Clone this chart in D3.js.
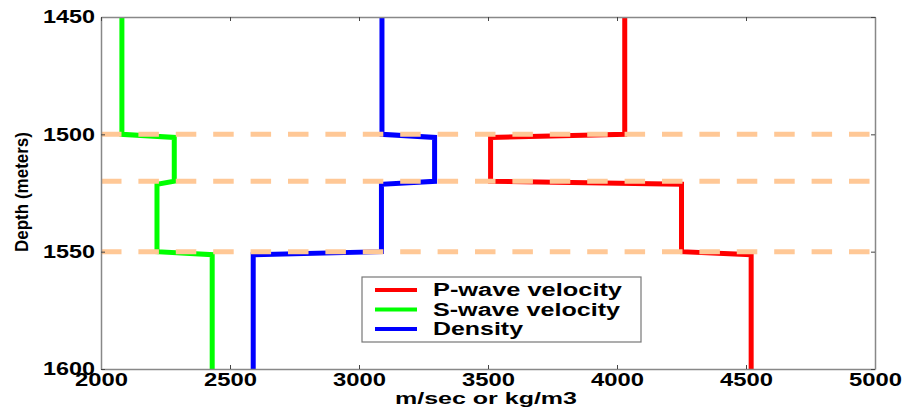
<!DOCTYPE html>
<html>
<head>
<meta charset="utf-8">
<script src="https://cdn.jsdelivr.net/npm/d3@7"></script>
<style>
  body { margin: 0; background: #fff; }
  svg { display: block; font-family: "Liberation Sans", Arial, sans-serif; font-weight: bold; }
</style>
</head>
<body>
<div id="chart"></div>
<script>
const width = 906;
const height = 408;

// depth samples (m) shared by the three logs
const depths = [1450, 1500, 1501.3, 1520, 1521.3, 1550, 1551.3, 1600];
const pWave = [4030, 4030, 3510, 3510, 4250, 4250, 4520, 4520];
const sWave = [2081, 2081, 2284, 2284, 2217, 2217, 2431, 2431];
const density = [3089, 3089, 3293, 3293, 3087, 3087, 2590, 2590];

const boundaries = [1500, 1520, 1550];
const xTicks = [2000, 2500, 3000, 3500, 4000, 4500, 5000];
const yTicks = [1450, 1500, 1550, 1600];

const seriesNames = ["P-wave velocity", "S-wave velocity", "Density"];
const seriesColors = ["#ff0000", "#00ff00", "#0000ff"];
const seriesValues = [pWave, sWave, density];

const x = d3.scaleLinear().domain([2000, 5000]).range([101, 875]);
const y = d3.scaleLinear().domain([1450, 1600]).range([17, 369]);

const svg = d3.select("#chart").append("svg")
    .attr("width", width)
    .attr("height", height);

// courbes
const line = d3.line()
    .x(d => x(d[0]))
    .y(d => y(d[1]));

seriesValues.forEach((vals, i) => {
    svg.append("path")
        .datum(vals.map((v, j) => [v, depths[j]]))
        .attr("d", line)
        .attr("fill", "none")
        .attr("stroke", seriesColors[i])
        .attr("stroke-width", 5)
        .attr("stroke-linejoin", "miter");
});

// limites de couches en tirets
svg.append("g")
    .selectAll("line")
    .data(boundaries)
    .enter()
    .append("line")
    .attr("x1", x(2000))
    .attr("x2", x(5000))
    .attr("y1", d => y(d))
    .attr("y2", d => y(d))
    .attr("stroke", "#ffc896")
    .attr("stroke-width", 5)
    .attr("stroke-dasharray", "20.5,16.9");

// axes
function styleAxis(g) {
    g.select(".domain").attr("stroke", "#888").attr("stroke-width", 1.5);
    g.selectAll(".tick line").attr("stroke", "#444");
    g.selectAll(".tick text")
        .attr("fill", "#000")
        .style("font-size", "18px")
        .style("font-weight", "bold")
        .attr("font-family", null);
}

svg.append("g")
    .attr("transform", `translate(0,${y(1600)})`)
    .call(d3.axisBottom(x).tickValues(xTicks).tickSize(-4).tickSizeOuter(0).tickPadding(4).tickFormat(d3.format("d")))
    .call(styleAxis)
    .selectAll(".tick text")
    .attr("textLength", 53)
    .attr("lengthAdjust", "spacingAndGlyphs");

svg.append("g")
    .attr("transform", `translate(${x(2000)},0)`)
    .call(d3.axisLeft(y).tickValues(yTicks).tickSize(-4).tickSizeOuter(0).tickPadding(6).tickFormat(d3.format("d")))
    .call(styleAxis)
    .selectAll(".tick text")
    .attr("textLength", 52)
    .attr("lengthAdjust", "spacingAndGlyphs");

svg.append("g")
    .attr("transform", `translate(0,${y(1450)})`)
    .call(d3.axisTop(x).tickValues(xTicks).tickSize(-4).tickSizeOuter(0).tickFormat(""))
    .call(styleAxis);

svg.append("g")
    .attr("transform", `translate(${x(5000)},0)`)
    .call(d3.axisRight(y).tickValues(yTicks).tickSize(-4).tickSizeOuter(0).tickFormat(""))
    .call(styleAxis);

// titres des axes
svg.append("text")
    .attr("x", 486)
    .attr("y", 404)
    .attr("text-anchor", "middle")
    .style("font-size", "16px")
    .attr("textLength", 182)
    .attr("lengthAdjust", "spacingAndGlyphs")
    .text("m/sec or kg/m3");

svg.append("text")
    .attr("transform", "translate(28,192) rotate(-90)")
    .attr("text-anchor", "middle")
    .style("font-size", "18px")
    .attr("textLength", 120)
    .attr("lengthAdjust", "spacingAndGlyphs")
    .text("Depth (meters)");

// légende
const legend = svg.append("g");
legend.append("rect")
    .attr("x", 362)
    .attr("y", 277)
    .attr("width", 279)
    .attr("height", 65)
    .attr("fill", "#fff")
    .attr("stroke", "#777")
    .attr("stroke-width", 1.2);

const textLengths = [189, 187, 90];
seriesNames.forEach((name, i) => {
    const cy = 290 + i * 19.5;
    legend.append("line")
        .attr("x1", 375)
        .attr("x2", 417)
        .attr("y1", cy)
        .attr("y2", cy)
        .attr("stroke", seriesColors[i])
        .attr("stroke-width", 4);
    legend.append("text")
        .attr("x", 433)
        .attr("y", cy + 6)
        .style("font-size", "18px")
        .attr("textLength", textLengths[i])
        .attr("lengthAdjust", "spacingAndGlyphs")
        .text(name);
});
</script>
</body>
</html>
